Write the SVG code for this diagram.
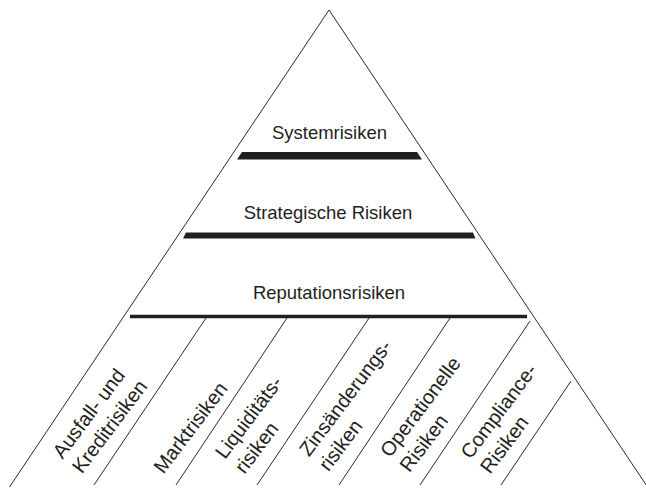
<svg xmlns="http://www.w3.org/2000/svg" width="646" height="489" viewBox="0 0 646 489">
<style>
.edge{fill:none;stroke:#2a2a2a;stroke-width:1}
.bar{fill:#231f20}
.hd{font-family:"Liberation Sans",Arial,sans-serif;font-size:18.5px;fill:#231f20;text-anchor:middle}
.rt{font-family:"Liberation Sans",Arial,sans-serif;font-size:20px;fill:#231f20}
</style>
<rect width="646" height="489" fill="#fff"/>
<g id="connectors">
<path class="edge" d="M9.5,487 L329,10 L647.5,487"/>
<path class="edge" d="M206,318 L94,485"/>
<path class="edge" d="M287,318 L176,485"/>
<path class="edge" d="M369,318 L257,485"/>
<path class="edge" d="M450,318 L339,485"/>
<path class="edge" d="M530,321 L420,485"/>
<path class="edge" d="M571,381 L501,485"/>
</g>
<g id="systemrisiken">
<polygon class="bar" points="242,152 417,152 422,159.5 237,159.5"/>
<text class="hd" x="329.5" y="139">Systemrisiken</text>
</g>
<g id="strategische">
<polygon class="bar" points="186,232.5 473,232.5 475.5,238.5 183,238.5"/>
<text class="hd" x="328" y="219">Strategische Risiken</text>
</g>
<g id="reputation">
<line x1="130" y1="316.5" x2="527" y2="316.5" stroke="#231f20" stroke-width="3.5"/>
<text class="hd" x="329" y="299">Reputationsrisiken</text>
</g>
<g id="ausfall">
<text class="rt" transform="translate(62.4,459.7) rotate(-53)"><tspan x="0" y="0">Ausfall- und</tspan><tspan x="0" y="24.5">Kreditrisiken</tspan></text>
</g>
<g id="markt">
<text class="rt" transform="translate(144,460) rotate(-53)"><tspan x="0" y="24.5">Marktrisiken</tspan></text>
</g>
<g id="liquiditaet">
<text class="rt" transform="translate(225,460) rotate(-53)"><tspan x="0" y="0">Liquiditäts-</tspan><tspan x="0" y="24.5">risiken</tspan></text>
</g>
<g id="zins">
<text class="rt" transform="translate(309,457.5) rotate(-53)"><tspan x="0" y="0">Zinsänderungs-</tspan><tspan x="0" y="24.5">risiken</tspan></text>
</g>
<g id="operationell">
<text class="rt" transform="translate(390,458.5) rotate(-53)"><tspan x="0" y="0">Operationelle</tspan><tspan x="0" y="24.5">Risiken</tspan></text>
</g>
<g id="compliance">
<text class="rt" transform="translate(470.5,460) rotate(-53)"><tspan x="0" y="0">Compliance-</tspan><tspan x="0" y="24.5">Risiken</tspan></text>
</g>
</svg>
